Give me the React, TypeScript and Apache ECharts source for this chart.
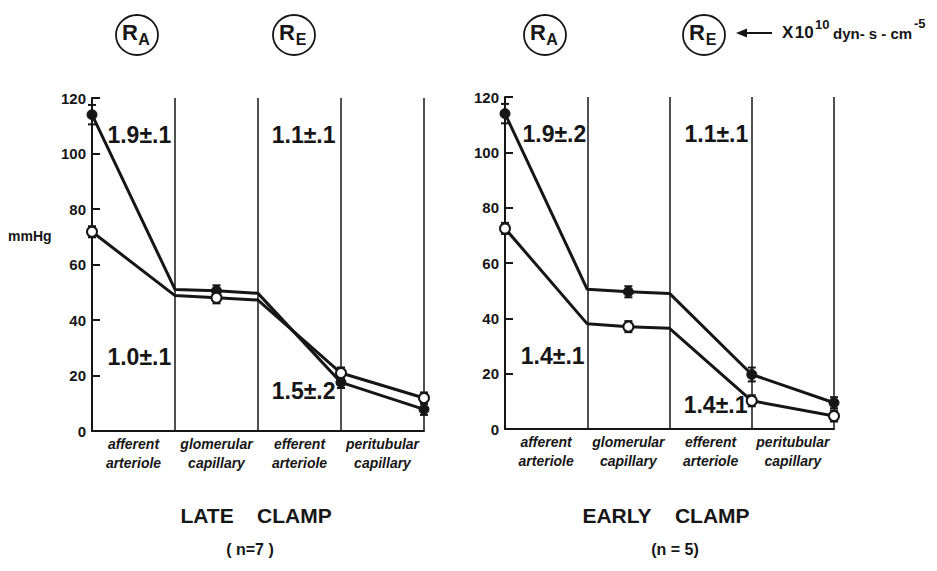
import React, { useEffect, useRef } from "react";
import * as echarts from "echarts";

// ---- data ----
const categories = [
  "afferent\narteriole",
  "glomerular\ncapillary",
  "efferent\narteriole",
  "peritubular\ncapillary",
];
const xPositions = [0, 1, 1.5, 2, 3, 4];
const markerIndex = [0, 2, 4, 5];

// LATE CLAMP (n=7)
const lateClosed = [114, 51, 50.5, 49.6, 17.5, 7.8];
const lateOpen = [71.8, 48.8, 48, 47.2, 20.9, 11.9];
const lateClosedErr = [3.5, 2, 2, 2];
const lateOpenErr = [2, 2, 2, 2];
const lateRatios = ["1.9±.1", "1.1±.1", "1.0±.1", "1.5±.2"];

// EARLY CLAMP (n=5)
const earlyClosed = [114, 50.5, 49.6, 49, 19.7, 9.5];
const earlyOpen = [72.5, 38, 37, 36.4, 10.2, 4.7];
const earlyClosedErr = [3.5, 2, 2.5, 2];
const earlyOpenErr = [2, 2, 2, 2];
const earlyRatios = ["1.9±.2", "1.1±.1", "1.4±.1", "1.4±.1"];

const panelTitles = ["LATE\u00a0\u00a0\u00a0\u00a0CLAMP", "EARLY\u00a0\u00a0\u00a0\u00a0CLAMP"];
const panelSubtitles = ["( n=7 )", "(n = 5)"];

// ---- layout (not data) ----
const FONT = "'Liberation Sans', Arial, sans-serif";
const INK = "#161616";
const ratioAnchors = [
  [0.57, 106.5],
  [2.55, 106.5],
  [0.57, 26.5],
  [2.55, 14.5],
];
const earlyRatioAnchors = [
  [0.6, 106.5],
  [2.57, 106.5],
  [0.58, 26.5],
  [2.56, 8.5],
];

const pairs = (ys: number[]) => ys.map((y, i) => [xPositions[i], y]);
const markers = (ys: number[]) => markerIndex.map((i) => [xPositions[i], ys[i]]);
const errors = (ys: number[], err: number[]) =>
  markerIndex.map((i, k) => [xPositions[i], ys[i] - err[k], ys[i] + err[k]]);

function errRender(params: any, api: any) {
  const x = api.value(0);
  const lo = api.coord([x, api.value(1)]);
  const hi = api.coord([x, api.value(2)]);
  const w = 4;
  const st = { stroke: INK, lineWidth: 2 };
  return {
    type: "group",
    children: [
      { type: "line", shape: { x1: lo[0], y1: lo[1], x2: hi[0], y2: hi[1] }, style: st },
      { type: "line", shape: { x1: hi[0] - w, y1: hi[1], x2: hi[0] + w, y2: hi[1] }, style: st },
      { type: "line", shape: { x1: lo[0] - w, y1: lo[1], x2: lo[0] + w, y2: lo[1] }, style: st },
    ],
  };
}

function panelSeries(
  idx: number,
  closed: number[],
  open: number[],
  closedErr: number[],
  openErr: number[],
  ratios: string[],
  anchors: number[][]
) {
  const ax = { xAxisIndex: idx * 2, yAxisIndex: idx };
  const lineStyle = { color: INK, width: 3, opacity: 1 };
  return [
    { type: "line", ...ax, data: pairs(closed), symbol: "none", lineStyle, z: 2 },
    { type: "line", ...ax, data: pairs(open), symbol: "none", lineStyle, z: 2 },
    {
      type: "custom",
      ...ax,
      data: errors(closed, closedErr),
      renderItem: errRender,
      encode: { x: 0, y: [1, 2] },
      z: 3,
    },
    {
      type: "custom",
      ...ax,
      data: errors(open, openErr),
      renderItem: errRender,
      encode: { x: 0, y: [1, 2] },
      z: 3,
    },
    {
      type: "scatter",
      ...ax,
      data: markers(closed),
      symbol: "circle",
      symbolSize: 10,
      itemStyle: { color: INK, borderColor: INK, borderWidth: 1, opacity: 1 },
      z: 4,
    },
    {
      type: "scatter",
      ...ax,
      data: markers(open),
      symbol: "circle",
      symbolSize: 10,
      itemStyle: { color: "#ffffff", borderColor: INK, borderWidth: 2, opacity: 1 },
      z: 4,
    },
    {
      type: "scatter",
      ...ax,
      data: ratios.map((t, i) => ({ value: anchors[i], name: t })),
      symbolSize: 0,
      silent: true,
      itemStyle: { opacity: 1 },
      label: {
        show: true,
        position: "inside",
        formatter: (p: any) => p.name,
        fontFamily: FONT,
        fontSize: 23,
        fontWeight: "bold",
        color: INK,
        opacity: 1,
      },
      z: 5,
    },
  ];
}

function valueX(gridIndex: number) {
  return {
    type: "value",
    gridIndex,
    min: 0,
    max: 4,
    interval: 1,
    position: "bottom",
    axisLine: { show: true, onZero: false, lineStyle: { color: INK, width: 2 } },
    axisTick: { show: false },
    axisLabel: { show: false },
    splitLine: { show: true, lineStyle: { color: INK, width: 1.5 } },
  };
}

function catX(gridIndex: number) {
  return {
    type: "category",
    gridIndex,
    data: categories,
    boundaryGap: true,
    position: "bottom",
    axisLine: { show: false },
    axisTick: { show: false },
    splitLine: { show: false },
    axisLabel: {
      interval: 0,
      margin: 3,
      fontFamily: FONT,
      fontSize: 14,
      fontStyle: "italic",
      fontWeight: "bold",
      lineHeight: 19,
      color: INK,
    },
  };
}

function valueY(gridIndex: number) {
  return {
    type: "value",
    gridIndex,
    min: 0,
    max: 120,
    interval: 20,
    axisLine: { show: true, lineStyle: { color: INK, width: 2 } },
    axisTick: { show: true, inside: true, length: 8, lineStyle: { color: INK, width: 2 } },
    axisLabel: { margin: 6, fontFamily: FONT, fontSize: 15, fontWeight: "bold", color: INK },
    splitLine: { show: false },
  };
}

function resistanceBadge(cx: number, cy: number, sub: string) {
  return [
    {
      type: "ellipse",
      shape: { cx, cy, rx: 21, ry: 20 },
      style: { fill: "none", stroke: INK, lineWidth: 1.8 },
    },
    {
      type: "text",
      x: cx - 7,
      y: cy + 8,
      style: { text: "R", font: `bold 22px ${FONT}`, fill: INK, textAlign: "center", textVerticalAlign: "bottom" },
    },
    {
      type: "text",
      x: cx + 7,
      y: cy + 12,
      style: { text: sub, font: `bold 16px ${FONT}`, fill: INK, textAlign: "center", textVerticalAlign: "bottom" },
    },
  ];
}

export default function App() {
  const ref = useRef<HTMLDivElement>(null);
  useEffect(() => {
    if (!ref.current) return;
    const chart = echarts.init(ref.current, undefined, { renderer: "svg" });
    const graphic: any[] = [
      ...resistanceBadge(137, 35, "A"),
      ...resistanceBadge(294, 35, "E"),
      ...resistanceBadge(545, 35, "A"),
      ...resistanceBadge(704, 35, "E"),
      {
        type: "line",
        shape: { x1: 740, y1: 33, x2: 772, y2: 33 },
        style: { stroke: INK, lineWidth: 2 },
      },
      {
        type: "polygon",
        shape: { points: [[736, 33], [747, 28.5], [747, 37.5]] },
        style: { fill: INK },
      },
      { type: "text", x: 782, y: 41, style: { text: "X\u200a10", font: `bold 17px ${FONT}`, fill: INK, textVerticalAlign: "bottom" } },
      { type: "text", x: 815, y: 31, style: { text: "10", font: `bold 13px ${FONT}`, fill: INK, textVerticalAlign: "bottom" } },
      { type: "text", x: 833, y: 41, style: { text: "dyn- s - cm", font: `bold 15px ${FONT}`, fill: INK, textVerticalAlign: "bottom" } },
      { type: "text", x: 914, y: 30, style: { text: "-5", font: `bold 13px ${FONT}`, fill: INK, textVerticalAlign: "bottom" } },
      { type: "text", x: 8, y: 236, style: { text: "mmHg", font: `bold 14px ${FONT}`, fill: INK, textVerticalAlign: "middle" } },
      { type: "text", x: 256, y: 515, style: { text: panelTitles[0], font: `bold 21px ${FONT}`, fill: INK, textAlign: "center", textVerticalAlign: "middle" } },
      { type: "text", x: 250, y: 549, style: { text: panelSubtitles[0], font: `bold 16px ${FONT}`, fill: INK, textAlign: "center", textVerticalAlign: "middle" } },
      { type: "text", x: 666, y: 515, style: { text: panelTitles[1], font: `bold 21px ${FONT}`, fill: INK, textAlign: "center", textVerticalAlign: "middle" } },
      { type: "text", x: 675, y: 549, style: { text: panelSubtitles[1], font: `bold 16px ${FONT}`, fill: INK, textAlign: "center", textVerticalAlign: "middle" } },
    ];
    chart.setOption({
      animation: false,
      backgroundColor: "#fff",
      grid: [
        { left: 92, top: 98, width: 332, height: 333 },
        { left: 505, top: 97, width: 329, height: 332 },
      ],
      xAxis: [valueX(0), catX(0), valueX(1), catX(1)],
      yAxis: [valueY(0), valueY(1)],
      series: [
        ...panelSeries(0, lateClosed, lateOpen, lateClosedErr, lateOpenErr, lateRatios, ratioAnchors),
        ...panelSeries(1, earlyClosed, earlyOpen, earlyClosedErr, earlyOpenErr, earlyRatios, earlyRatioAnchors),
      ],
      graphic,
    });
    return () => chart.dispose();
  }, []);
  return (
    <div
      ref={ref}
      style={{ position: "fixed", left: 0, top: 0, width: 937, height: 571, background: "#fff" }}
    />
  );
}
